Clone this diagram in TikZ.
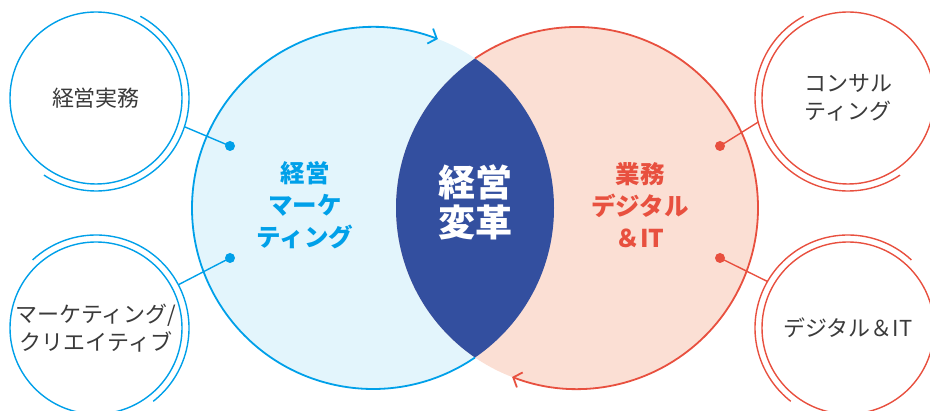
\documentclass[tikz,border=0pt]{standalone}
\usepackage{fontspec}
\setmainfont{Noto Sans CJK JP}
\usetikzlibrary{arrows.meta,calc}
\definecolor{cblue}{HTML}{00A0E9}
\definecolor{lblue}{HTML}{E3F5FC}
\definecolor{cred}{HTML}{E8503F}
\definecolor{lred}{HTML}{FBDFD4}
\definecolor{navy}{HTML}{334F9F}
\definecolor{txt}{HTML}{3A3A3A}
\begin{document}
\begin{tikzpicture}[x=1pt,y=1pt,
  bigtxt/.style={font=\fontsize{24.5}{32}\selectfont\bfseries, align=center},
  smallcirc/.style={circle, line width=1.4pt, minimum size=172pt, inner sep=0pt, outer sep=0pt, fill=white, text=txt, font=\fontsize{22}{28}\selectfont, align=center},
  dot/.style={circle, inner sep=0pt, minimum size=10pt},
  conn/.style={line width=1.4pt},
  outerarc/.style={line width=1.4pt},
  bigarc/.style={line width=1.8pt, -{Straight Barb[length=7pt,width=16pt,line width=1.8pt]}}]
\useasboundingbox (0,0) rectangle (930,411);
\coordinate (L) at (373,203);
\coordinate (R) at (577,203);
\fill[lblue] (L) circle[radius=181];
\fill[lred] (R) circle[radius=181];
\begin{scope}
  \clip (L) circle[radius=181];
  \fill[navy] (R) circle[radius=181];
\end{scope}
\draw[cblue, bigarc] ($(L)+(-55.7:181)$) arc[start angle=-55.7, end angle=-291, radius=181];
\draw[cred, bigarc] ($(R)+(124.3:181)$) arc[start angle=124.3, end angle=-111, radius=181];

\node[bigtxt, text=cblue] (lt) at (305,206) {経営\\マーケ\\ティング};
\node[bigtxt, text=cred] (rt) at (640,206) {業務\\デジタル\\＆IT};
\node[font=\fontsize{37}{40}\selectfont\bfseries, text=white, align=center] (ct) at (475,209) {経営\\変革};

\node[smallcirc, draw=cblue] (tl) at (96,313) {経営実務};
\node[smallcirc, draw=cblue] (bl) at (96,83) {マーケティング/\\クリエイティブ};
\node[smallcirc, draw=cred] (tr) at (848,313) {コンサル\\ティング};
\node[smallcirc, draw=cred] (br) at (848,83) {デジタル＆IT};

\draw[outerarc, cblue] ($(tl)+(61.5:93)$) arc[start angle=61.5, end angle=-124, radius=93];
\draw[outerarc, cblue] ($(bl)+(133:93)$) arc[start angle=133, end angle=-52, radius=93];
\draw[outerarc, cred] ($(tr)+(118.5:93)$) arc[start angle=118.5, end angle=304, radius=93];
\draw[outerarc, cred] ($(br)+(47:93)$) arc[start angle=47, end angle=232, radius=93];

\coordinate (e1) at ($(tl)+(-18:93)$);
\coordinate (e2) at ($(bl)+(27.7:93)$);
\coordinate (e3) at ($(tr)+(195:93)$);
\coordinate (e4) at ($(br)+(150:93)$);
\node[dot, fill=cblue] (d1) at (230,265) {};
\node[dot, fill=cblue] (d2) at (230,153) {};
\node[dot, fill=cred] (d3) at (720,265) {};
\node[dot, fill=cred] (d4) at (720,153) {};
\draw[conn, cblue] (d1.center) -- (e1);
\draw[conn, cblue] (d2.center) -- (e2);
\draw[conn, cred] (d3.center) -- (e3);
\draw[conn, cred] (d4.center) -- (e4);
\end{tikzpicture}
\end{document}
